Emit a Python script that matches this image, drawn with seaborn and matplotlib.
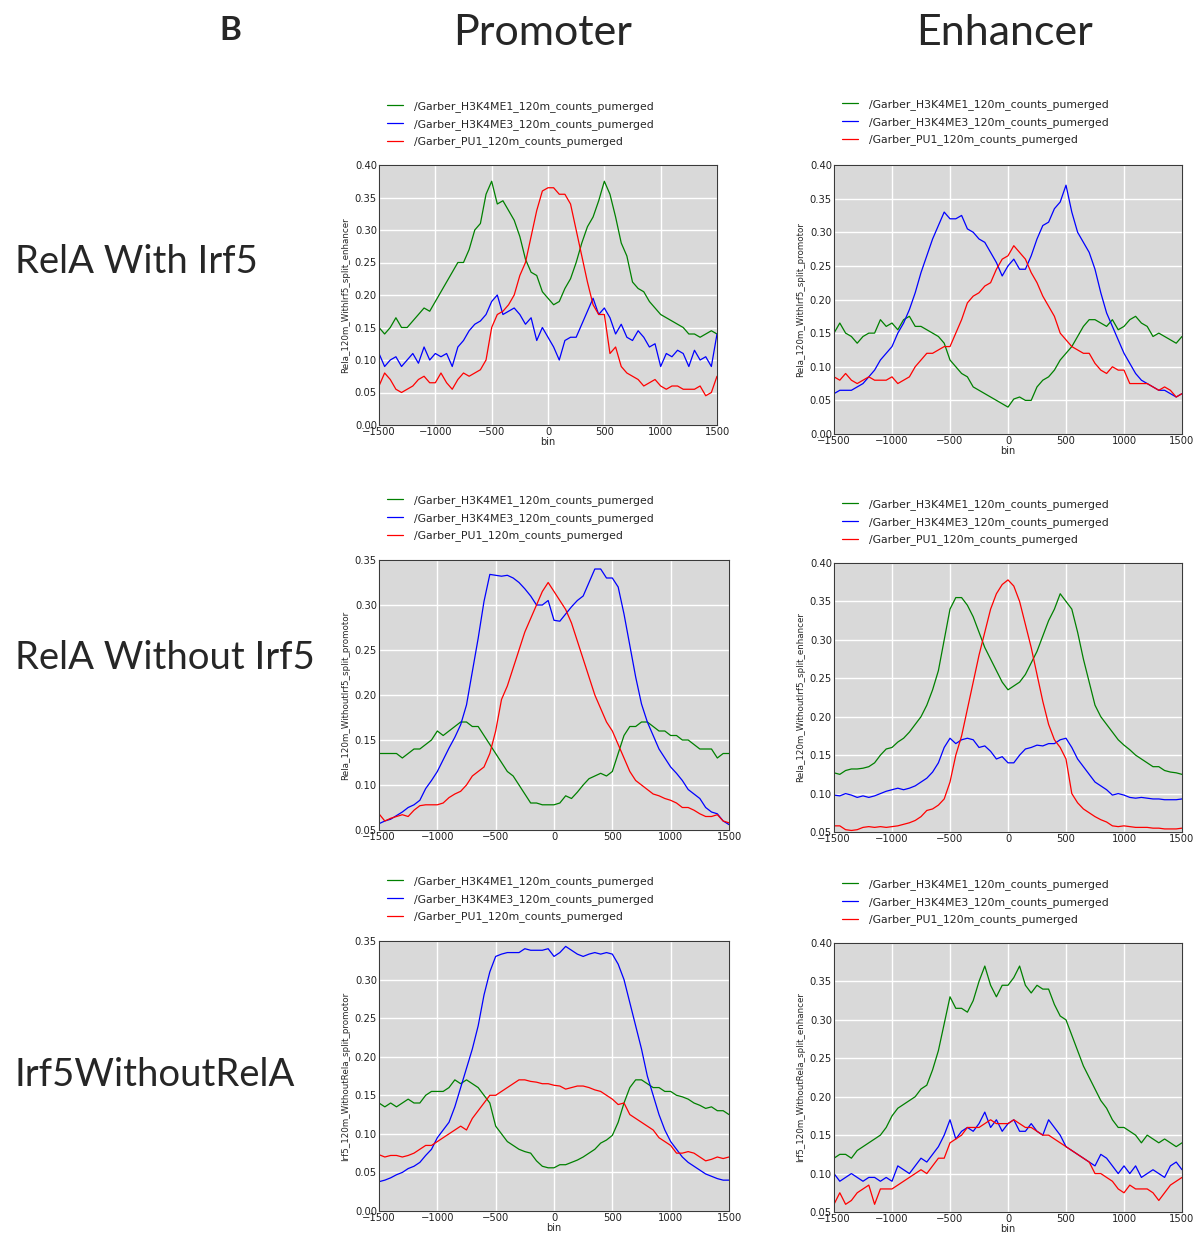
import pandas as pd
import seaborn as sns
import matplotlib
matplotlib.use("Agg")
import matplotlib.pyplot as plt

# bins along the x axis (every 50 bp)
BINS = list(range(-1500, 1501, 50))

SERIES = ["/Garber_H3K4ME1_120m_counts_pumerged",
          "/Garber_H3K4ME3_120m_counts_pumerged",
          "/Garber_PU1_120m_counts_pumerged"]
COLORS = ["#008000", "#0000ff", "#ff0000"]

ROW_LABELS = ["RelA With Irf5", "RelA Without Irf5", "Irf5WithoutRelA"]
COL_LABELS = ["Promoter", "Enhancer"]

# RelA with Irf5, promoter column
p1_me1 = [0.150, 0.140, 0.150, 0.165, 0.150, 0.150, 0.160, 0.170, 0.180, 0.175,
          0.190, 0.205, 0.220, 0.235, 0.250, 0.250, 0.270, 0.300, 0.310, 0.355,
          0.375, 0.340, 0.345, 0.330, 0.315, 0.290, 0.255, 0.235, 0.230, 0.205,
          0.195, 0.185, 0.190, 0.210, 0.225, 0.250, 0.280, 0.305, 0.320, 0.345,
          0.375, 0.355, 0.320, 0.280, 0.260, 0.220, 0.210, 0.205, 0.190, 0.180,
          0.170, 0.165, 0.160, 0.155, 0.150, 0.140, 0.140, 0.135, 0.140, 0.145, 0.140]
p1_me3 = [0.110, 0.090, 0.100, 0.105, 0.090, 0.100, 0.110, 0.095, 0.120, 0.100,
          0.110, 0.105, 0.110, 0.090, 0.120, 0.130, 0.145, 0.155, 0.160, 0.170,
          0.190, 0.200, 0.170, 0.175, 0.180, 0.170, 0.155, 0.165, 0.130, 0.150,
          0.135, 0.120, 0.100, 0.130, 0.135, 0.135, 0.155, 0.175, 0.195, 0.170,
          0.180, 0.165, 0.140, 0.155, 0.135, 0.130, 0.145, 0.135, 0.120, 0.125,
          0.090, 0.110, 0.105, 0.115, 0.110, 0.090, 0.115, 0.100, 0.105, 0.090, 0.140]
p1_pu1 = [0.060, 0.080, 0.070, 0.055, 0.050, 0.055, 0.060, 0.070, 0.075, 0.065,
          0.065, 0.080, 0.065, 0.055, 0.070, 0.080, 0.075, 0.080, 0.085, 0.100,
          0.150, 0.170, 0.175, 0.185, 0.200, 0.230, 0.250, 0.290, 0.330, 0.360,
          0.365, 0.365, 0.355, 0.355, 0.340, 0.300, 0.260, 0.220, 0.185, 0.170,
          0.170, 0.110, 0.120, 0.090, 0.080, 0.075, 0.070, 0.060, 0.065, 0.070,
          0.060, 0.055, 0.060, 0.060, 0.055, 0.055, 0.055, 0.060, 0.045, 0.050, 0.075]

# RelA with Irf5, enhancer column
p2_me1 = [0.150, 0.165, 0.150, 0.145, 0.135, 0.145, 0.150, 0.150, 0.170, 0.160,
          0.165, 0.155, 0.170, 0.175, 0.160, 0.160, 0.155, 0.150, 0.145, 0.135,
          0.110, 0.100, 0.090, 0.085, 0.070, 0.065, 0.060, 0.055, 0.050, 0.045,
          0.040, 0.052, 0.055, 0.050, 0.050, 0.070, 0.080, 0.085, 0.095, 0.110,
          0.120, 0.130, 0.145, 0.160, 0.170, 0.170, 0.165, 0.160, 0.170, 0.155,
          0.160, 0.170, 0.175, 0.165, 0.160, 0.145, 0.150, 0.145, 0.140, 0.135, 0.145]
p2_me3 = [0.060, 0.065, 0.065, 0.065, 0.070, 0.075, 0.085, 0.095, 0.110, 0.120,
          0.130, 0.150, 0.165, 0.185, 0.210, 0.240, 0.265, 0.290, 0.310, 0.330,
          0.320, 0.320, 0.325, 0.305, 0.300, 0.290, 0.285, 0.270, 0.255, 0.235,
          0.250, 0.260, 0.245, 0.245, 0.265, 0.290, 0.310, 0.315, 0.335, 0.345,
          0.370, 0.330, 0.300, 0.285, 0.270, 0.245, 0.210, 0.180, 0.160, 0.140,
          0.120, 0.105, 0.090, 0.080, 0.075, 0.070, 0.065, 0.065, 0.060, 0.055, 0.060]
p2_pu1 = [0.085, 0.080, 0.090, 0.080, 0.075, 0.080, 0.085, 0.080, 0.080, 0.080,
          0.085, 0.075, 0.080, 0.085, 0.100, 0.110, 0.120, 0.120, 0.125, 0.130,
          0.130, 0.150, 0.170, 0.195, 0.205, 0.210, 0.220, 0.225, 0.245, 0.260,
          0.265, 0.280, 0.270, 0.260, 0.240, 0.225, 0.205, 0.190, 0.175, 0.150,
          0.140, 0.130, 0.125, 0.120, 0.120, 0.105, 0.095, 0.090, 0.100, 0.095,
          0.095, 0.075, 0.075, 0.075, 0.075, 0.070, 0.065, 0.070, 0.065, 0.055, 0.060]

# RelA without Irf5, promoter column
p3_me1 = [0.135, 0.135, 0.135, 0.135, 0.130, 0.135, 0.140, 0.140, 0.145, 0.150,
          0.160, 0.155, 0.160, 0.165, 0.170, 0.170, 0.165, 0.165, 0.155, 0.145,
          0.135, 0.125, 0.115, 0.110, 0.100, 0.090, 0.080, 0.080, 0.078, 0.078,
          0.078, 0.080, 0.088, 0.085, 0.092, 0.100, 0.107, 0.110, 0.113, 0.110,
          0.115, 0.135, 0.155, 0.165, 0.165, 0.170, 0.170, 0.165, 0.160, 0.160,
          0.155, 0.155, 0.150, 0.150, 0.145, 0.140, 0.140, 0.140, 0.130, 0.135, 0.135]
p3_me3 = [0.057, 0.060, 0.062, 0.066, 0.070, 0.075, 0.078, 0.083, 0.096, 0.105,
          0.115, 0.128, 0.141, 0.153, 0.167, 0.189, 0.226, 0.263, 0.304, 0.334,
          0.333, 0.332, 0.333, 0.330, 0.325, 0.318, 0.310, 0.300, 0.300, 0.305,
          0.283, 0.282, 0.290, 0.298, 0.305, 0.310, 0.325, 0.340, 0.340, 0.330,
          0.330, 0.320, 0.290, 0.255, 0.220, 0.190, 0.170, 0.155, 0.140, 0.130,
          0.120, 0.113, 0.105, 0.095, 0.090, 0.085, 0.075, 0.070, 0.068, 0.060, 0.056]
p3_pu1 = [0.068, 0.060, 0.063, 0.065, 0.067, 0.065, 0.072, 0.077, 0.078, 0.078,
          0.078, 0.080, 0.086, 0.090, 0.093, 0.100, 0.110, 0.115, 0.120, 0.135,
          0.160, 0.195, 0.210, 0.230, 0.250, 0.270, 0.285, 0.300, 0.315, 0.325,
          0.315, 0.305, 0.295, 0.280, 0.260, 0.240, 0.220, 0.200, 0.185, 0.170,
          0.160, 0.145, 0.130, 0.115, 0.105, 0.100, 0.095, 0.090, 0.088, 0.085,
          0.083, 0.080, 0.075, 0.075, 0.072, 0.068, 0.065, 0.065, 0.067, 0.060, 0.058]

# RelA without Irf5, enhancer column
p4_me1 = [0.127, 0.125, 0.130, 0.132, 0.132, 0.133, 0.135, 0.140, 0.150, 0.158,
          0.160, 0.167, 0.172, 0.180, 0.190, 0.200, 0.215, 0.235, 0.260, 0.300,
          0.340, 0.355, 0.355, 0.345, 0.330, 0.310, 0.290, 0.275, 0.260, 0.245,
          0.235, 0.240, 0.245, 0.255, 0.270, 0.285, 0.305, 0.325, 0.340, 0.360,
          0.350, 0.340, 0.310, 0.275, 0.245, 0.215, 0.200, 0.190, 0.180, 0.170,
          0.163, 0.157, 0.150, 0.145, 0.140, 0.135, 0.135, 0.130, 0.128, 0.127, 0.125]
p4_me3 = [0.098, 0.097, 0.100, 0.098, 0.095, 0.097, 0.095, 0.097, 0.100, 0.103,
          0.105, 0.107, 0.105, 0.107, 0.110, 0.115, 0.120, 0.128, 0.140, 0.160,
          0.172, 0.165, 0.170, 0.172, 0.170, 0.160, 0.162, 0.155, 0.145, 0.148,
          0.140, 0.140, 0.150, 0.158, 0.160, 0.163, 0.162, 0.165, 0.165, 0.170,
          0.172, 0.160, 0.145, 0.135, 0.125, 0.115, 0.110, 0.105, 0.098, 0.100,
          0.098, 0.095, 0.094, 0.095, 0.094, 0.093, 0.093, 0.092, 0.092, 0.092, 0.093]
p4_pu1 = [0.058, 0.058, 0.053, 0.052, 0.053, 0.056, 0.057, 0.056, 0.057, 0.056,
          0.057, 0.058, 0.060, 0.062, 0.065, 0.070, 0.078, 0.080, 0.085, 0.093,
          0.115, 0.150, 0.175, 0.210, 0.245, 0.280, 0.310, 0.340, 0.360, 0.372,
          0.378, 0.370, 0.350, 0.320, 0.290, 0.255, 0.220, 0.190, 0.170, 0.160,
          0.145, 0.100, 0.088, 0.080, 0.075, 0.070, 0.066, 0.063, 0.058, 0.057,
          0.058, 0.057, 0.056, 0.056, 0.056, 0.055, 0.055, 0.054, 0.054, 0.054, 0.055]

# Irf5 without RelA, promoter column
p5_me1 = [0.140, 0.135, 0.140, 0.135, 0.140, 0.145, 0.140, 0.140, 0.150, 0.155,
          0.155, 0.155, 0.160, 0.170, 0.165, 0.170, 0.165, 0.160, 0.150, 0.140,
          0.110, 0.100, 0.090, 0.085, 0.080, 0.077, 0.075, 0.065, 0.058, 0.056,
          0.056, 0.060, 0.060, 0.063, 0.066, 0.070, 0.075, 0.080, 0.088, 0.092,
          0.098, 0.115, 0.140, 0.160, 0.170, 0.170, 0.165, 0.160, 0.160, 0.155,
          0.155, 0.150, 0.148, 0.145, 0.140, 0.137, 0.133, 0.135, 0.130, 0.130, 0.125]
p5_me3 = [0.038, 0.040, 0.043, 0.047, 0.050, 0.055, 0.058, 0.063, 0.072, 0.080,
          0.095, 0.105, 0.115, 0.135, 0.160, 0.185, 0.210, 0.240, 0.280, 0.310,
          0.330, 0.333, 0.335, 0.335, 0.335, 0.340, 0.338, 0.338, 0.338, 0.340,
          0.330, 0.335, 0.343, 0.338, 0.333, 0.330, 0.333, 0.335, 0.333, 0.335,
          0.333, 0.320, 0.300, 0.270, 0.240, 0.210, 0.175, 0.150, 0.125, 0.105,
          0.090, 0.080, 0.070, 0.063, 0.058, 0.053, 0.048, 0.045, 0.042, 0.040, 0.040]
p5_pu1 = [0.073, 0.070, 0.072, 0.072, 0.070, 0.072, 0.075, 0.080, 0.085, 0.085,
          0.090, 0.095, 0.100, 0.105, 0.110, 0.105, 0.120, 0.130, 0.140, 0.150,
          0.150, 0.155, 0.160, 0.165, 0.170, 0.170, 0.168, 0.167, 0.165, 0.165,
          0.163, 0.162, 0.158, 0.160, 0.162, 0.162, 0.160, 0.157, 0.155, 0.150,
          0.145, 0.138, 0.140, 0.125, 0.120, 0.115, 0.110, 0.105, 0.095, 0.090,
          0.085, 0.075, 0.075, 0.077, 0.075, 0.070, 0.065, 0.067, 0.070, 0.068, 0.070]

# Irf5 without RelA, enhancer column
p6_me1 = [0.120, 0.125, 0.125, 0.120, 0.130, 0.135, 0.140, 0.145, 0.150, 0.160,
          0.175, 0.185, 0.190, 0.195, 0.200, 0.210, 0.215, 0.235, 0.260, 0.295,
          0.330, 0.315, 0.315, 0.310, 0.325, 0.350, 0.370, 0.345, 0.330, 0.345,
          0.345, 0.355, 0.370, 0.345, 0.335, 0.345, 0.340, 0.340, 0.320, 0.305,
          0.300, 0.280, 0.260, 0.240, 0.225, 0.210, 0.195, 0.185, 0.170, 0.160,
          0.160, 0.155, 0.150, 0.140, 0.150, 0.145, 0.140, 0.145, 0.140, 0.135, 0.140]
p6_me3 = [0.100, 0.090, 0.095, 0.100, 0.095, 0.090, 0.095, 0.095, 0.090, 0.095,
          0.090, 0.110, 0.105, 0.100, 0.110, 0.120, 0.115, 0.125, 0.135, 0.150,
          0.170, 0.145, 0.155, 0.160, 0.155, 0.165, 0.180, 0.160, 0.170, 0.155,
          0.165, 0.170, 0.155, 0.155, 0.165, 0.155, 0.150, 0.170, 0.160, 0.150,
          0.135, 0.130, 0.125, 0.120, 0.115, 0.110, 0.125, 0.120, 0.110, 0.100,
          0.110, 0.100, 0.110, 0.095, 0.100, 0.105, 0.100, 0.095, 0.110, 0.115, 0.105]
p6_pu1 = [0.060, 0.075, 0.060, 0.065, 0.075, 0.080, 0.085, 0.060, 0.080, 0.080,
          0.080, 0.085, 0.090, 0.095, 0.100, 0.105, 0.100, 0.110, 0.120, 0.120,
          0.140, 0.145, 0.150, 0.160, 0.160, 0.160, 0.165, 0.170, 0.165, 0.165,
          0.165, 0.170, 0.165, 0.160, 0.160, 0.155, 0.150, 0.150, 0.145, 0.140,
          0.135, 0.130, 0.125, 0.120, 0.115, 0.100, 0.100, 0.095, 0.090, 0.080,
          0.075, 0.085, 0.080, 0.080, 0.080, 0.075, 0.065, 0.075, 0.085, 0.090, 0.095]

YLABELS = ["Rela_120m_WithIrf5_split_enhancer", "Rela_120m_WithIrf5_split_promotor",
           "Rela_120m_WithoutIrf5_split_promotor", "Rela_120m_WithoutIrf5_split_enhancer",
           "Irf5_120m_WithoutRela_split_promotor", "Irf5_120m_WithoutRela_split_enhancer"]
YLIMS = [(0.0, 0.40), (0.0, 0.40), (0.05, 0.35), (0.05, 0.40), (0.0, 0.35), (0.05, 0.40)]
SHOW_XLABEL = [True, True, False, False, True, True]
DATA = [(p1_me1, p1_me3, p1_pu1), (p2_me1, p2_me3, p2_pu1),
        (p3_me1, p3_me3, p3_pu1), (p4_me1, p4_me3, p4_pu1),
        (p5_me1, p5_me3, p5_pu1), (p6_me1, p6_me3, p6_pu1)]

W, H = 1202, 1235
# axes boxes in pixels: left, top, right, bottom
BOXES = [(379, 165, 717, 425), (834, 165, 1182, 434),
         (379, 560, 729, 830), (834, 563, 1182, 832),
         (379, 941, 729, 1211), (834, 943, 1182, 1212)]
# legend anchor: left of the handles, top of first row
LEG = [(387, 101), (842, 99), (387, 495), (842, 499), (387, 876), (842, 879)]

sns.set_style("darkgrid", {"axes.facecolor": "#d9d9d9", "grid.color": "white",
                           "axes.edgecolor": "#3a3a3a", "axes.linewidth": 1.0})
plt.rcParams["font.family"] = ["DejaVu Sans"]

fig = plt.figure(figsize=(W / 100, H / 100), dpi=100)
fig.patch.set_facecolor("white")

for i, (series_vals, box) in enumerate(zip(DATA, BOXES)):
    l, t, r, b = box
    ax = fig.add_axes([l / W, 1 - b / H, (r - l) / W, (b - t) / H])
    df = pd.concat([pd.DataFrame({"bin": BINS, "value": vals, "series": name})
                    for name, vals in zip(SERIES, series_vals)], ignore_index=True)
    sns.lineplot(data=df, x="bin", y="value", hue="series", palette=COLORS,
                 linewidth=0.9, ax=ax, legend=False)
    ax.set_xlim(-1500, 1500)
    ax.set_ylim(*YLIMS[i])
    ax.set_xticks([-1500, -1000, -500, 0, 500, 1000, 1500])
    lo, hi = YLIMS[i]
    ax.set_yticks([round(lo + 0.05 * k, 2) for k in range(int(round((hi - lo) / 0.05)) + 1)])
    ax.yaxis.set_major_formatter(matplotlib.ticker.FormatStrFormatter("%.2f"))
    ax.tick_params(labelsize=7.2, pad=1.5, length=0, colors="#222222")
    ax.grid(True, color="white", linewidth=1.0)
    ax.set_ylabel(YLABELS[i], fontsize=6.3, labelpad=3)
    ax.set_xlabel("bin" if SHOW_XLABEL[i] else "", fontsize=7, labelpad=0)
    for s in ax.spines.values():
        s.set_visible(True)
        s.set_color("#3a3a3a")
    lx, ly = LEG[i]
    ax.legend(ax.lines[:3], SERIES, loc="upper left", bbox_to_anchor=(lx / W, 1 - ly / H),
              bbox_transform=fig.transFigure, frameon=False, fontsize=7.85,
              handlelength=1.5, handletextpad=1.0, labelspacing=0.62,
              borderpad=0, borderaxespad=0)

row_font = ["Lato", "DejaVu Sans"]
for txt, y in zip(ROW_LABELS, [262, 658, 1075]):
    fig.text(15 / W, 1 - y / H, txt, fontsize=27.5, family=row_font, va="center", ha="left")
for txt, x in zip(COL_LABELS, [543, 1005]):
    fig.text(x / W, 1 - 33 / H, txt, fontsize=31, family=row_font, va="center", ha="center")
fig.text(230 / W, 1 - 30 / H, "B", fontsize=24, family=row_font, weight="bold",
         va="center", ha="center")

fig.savefig("out.png", dpi=100, facecolor="white")
